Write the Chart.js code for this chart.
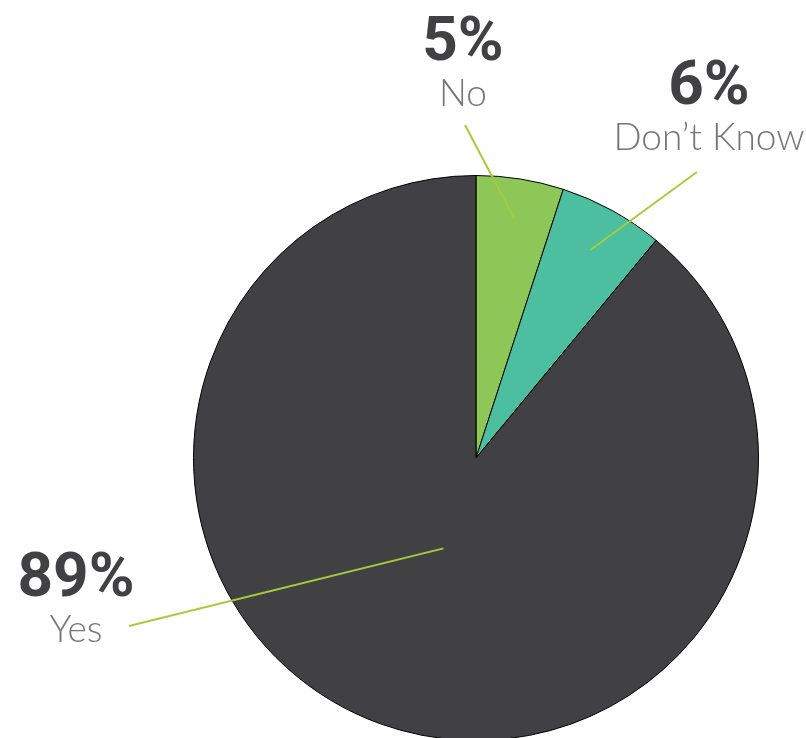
<!DOCTYPE html>
<html lang="en">
<head>
    <meta charset="UTF-8">
    <title>Pie</title>
    <script src="https://cdn.jsdelivr.net/npm/chart.js"></script>
    <style>
        html, body { margin: 0; padding: 0; background: #fff; overflow: hidden; }
        #wrap { width: 806px; height: 760px; }
    </style>
</head>
<body>
    <div id="wrap"><canvas id="myChart" width="806" height="760"></canvas></div>

<script>
    // dados do gráfico
    var categorias = ['No', 'Don\u2019t Know', 'Yes'];
    var valores = [5, 6, 89];
    var cores = ['#8cc757', '#4bbfa0', '#414042'];

    // onde fica cada rótulo (centro x, linha de base do número) e a ponta da linha guia
    var posRotulos = [
        { x: 463, y: 60, lx: 465, ly: 125, r: 0.86 },
        { x: 709, y: 104, lx: 697, ly: 172, r: 0.84 },
        { x: 76, y: 596, lx: 129, ly: 626, r: 0.34 }
    ];

    const rotulos = {
        id: 'rotulos',
        afterDatasetsDraw(chart) {
            const ctx = chart.ctx;
            const meta = chart.getDatasetMeta(0);
            ctx.save();
            meta.data.forEach(function (arc, i) {
                const p = arc.getProps(['x', 'y', 'startAngle', 'endAngle', 'outerRadius'], true);
                const meio = (p.startAngle + p.endAngle) / 2;
                const pos = posRotulos[i];
                const ix = p.x + Math.cos(meio) * p.outerRadius * pos.r;
                const iy = p.y + Math.sin(meio) * p.outerRadius * pos.r;

                ctx.strokeStyle = '#a6cb3c';
                ctx.lineWidth = 2;
                ctx.beginPath();
                ctx.moveTo(ix, iy);
                ctx.lineTo(pos.lx, pos.ly);
                ctx.stroke();

                ctx.textAlign = 'center';
                ctx.textBaseline = 'alphabetic';
                ctx.fillStyle = '#414042';
                ctx.font = 'bold 62px Roboto';
                ctx.fillText(valores[i] + '%', pos.x, pos.y);

                ctx.fillStyle = '#767676';
                ctx.font = '300 37px Lato';
                ctx.fillText(categorias[i], pos.x, pos.y + 46);
            });
            ctx.restore();
        }
    };

    new Chart(document.getElementById('myChart'), {
        type: 'pie',
        data: {
            labels: categorias,
            datasets: [{
                data: valores,
                backgroundColor: cores,
                borderColor: '#000000',
                borderWidth: 1
            }]
        },
        options: {
            responsive: false,
            animation: false,
            layout: { padding: { left: 193, right: 47, top: 175, bottom: 19 } },
            plugins: {
                legend: { display: false },
                tooltip: { enabled: false }
            }
        },
        plugins: [rotulos]
    });
</script>
</body>
</html>
